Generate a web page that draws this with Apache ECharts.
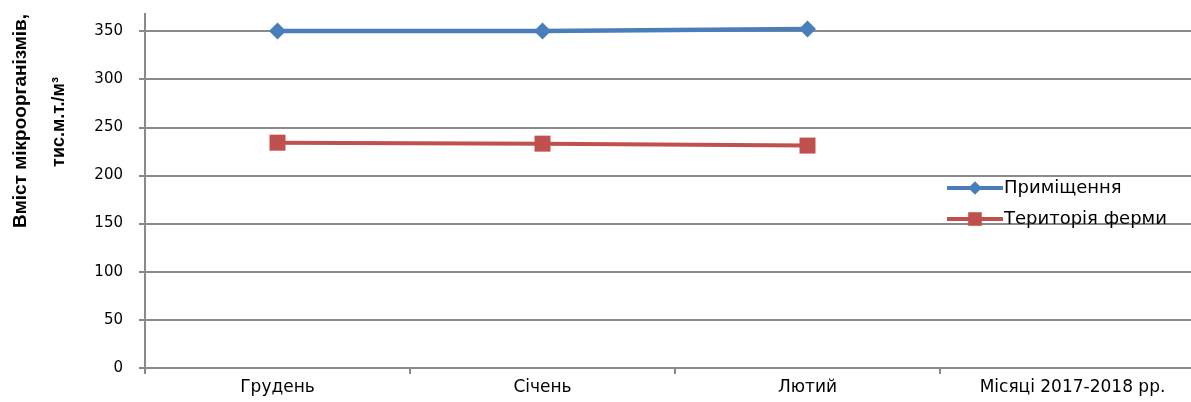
<!DOCTYPE html>
<html><head><meta charset="utf-8">
<script src="https://cdn.jsdelivr.net/npm/echarts@6/dist/echarts.min.js"></script>
<style>html,body{margin:0;padding:0;background:#fff;overflow:hidden;width:1191px;height:402px}#c{width:1205px;height:402px}</style>
</head><body><div id="c"></div>
<script>
const categories = ['Грудень', 'Січень', 'Лютий', 'Місяці 2017-2018 рр.'];
const seriesNames = ['Приміщення', 'Територія ферми'];
const indoor = [350, 350, 352, null];
const farm = [234, 233, 231, null];
const yMin = 0, yMax = 350, yStep = 50;
const yTitle1 = 'Вміст мікроорганізмів,';
const yTitle2 = 'тис.м.т./м³';

const chart = echarts.init(document.getElementById('c'), null, {renderer: 'canvas'});
const gray = '#8a8a8a';
chart.setOption({
  animation: false,
  backgroundColor: '#fff',
  grid: {left: 145, right: 0, top: 31, bottom: 34, containLabel: false},
  legend: {
    orient: 'vertical', left: 940, top: 174, itemGap: 13,
    itemWidth: 56, itemHeight: 17,
    lineStyle: {width: 4},
    textStyle: {fontFamily: 'DejaVu Sans', fontSize: 18, color: '#000', padding: [0,0,0,-4]},
    data: seriesNames
  },
  graphic: [
    {type: 'text', x: 21, y: 121, rotation: Math.PI / 2,
     style: {text: yTitle1, font: 'bold 19px "Liberation Sans", Arial', fill: '#000', align: 'center', verticalAlign: 'middle'}},
    {type: 'text', x: 59, y: 122, rotation: Math.PI / 2,
     style: {text: yTitle2, font: 'bold 18px "Liberation Sans", Arial', fill: '#000', align: 'center', verticalAlign: 'middle'}},
    {type: 'line', shape: {x1: 145, y1: 13, x2: 145, y2: 31}, style: {stroke: gray, lineWidth: 2}}
  ],
  xAxis: {
    type: 'category', data: categories, boundaryGap: true,
    axisLine: {lineStyle: {color: gray, width: 2}},
    axisTick: {show: true, length: 6, lineStyle: {color: gray, width: 2}},
    axisLabel: {color: '#000', fontFamily: 'DejaVu Sans', fontSize: 17, margin: 11, interval: 0}
  },
  yAxis: {
    type: 'value', min: yMin, max: yMax, interval: yStep,
    axisLine: {show: true, lineStyle: {color: gray, width: 2}},
    axisTick: {show: true, length: 6, lineStyle: {color: gray, width: 2}},
    axisLabel: {color: '#000', fontFamily: 'DejaVu Sans', fontSize: 15, margin: 22},
    splitLine: {show: true, lineStyle: {color: gray, width: 2}}
  },
  series: [
    {name: seriesNames[0], type: 'line', data: indoor, color: '#4a7ebb', clip: false,
     symbol: 'diamond', symbolSize: 17, lineStyle: {width: 4.5, color: '#4a7ebb'},
     itemStyle: {color: '#4a7ebb'}, z: 3},
    {name: seriesNames[1], type: 'line', data: farm, color: '#c0504d', clip: false,
     symbol: 'rect', symbolSize: 16, lineStyle: {width: 4, color: '#c0504d'},
     itemStyle: {color: '#c0504d'}, z: 3}
  ]
});
</script></body></html>
